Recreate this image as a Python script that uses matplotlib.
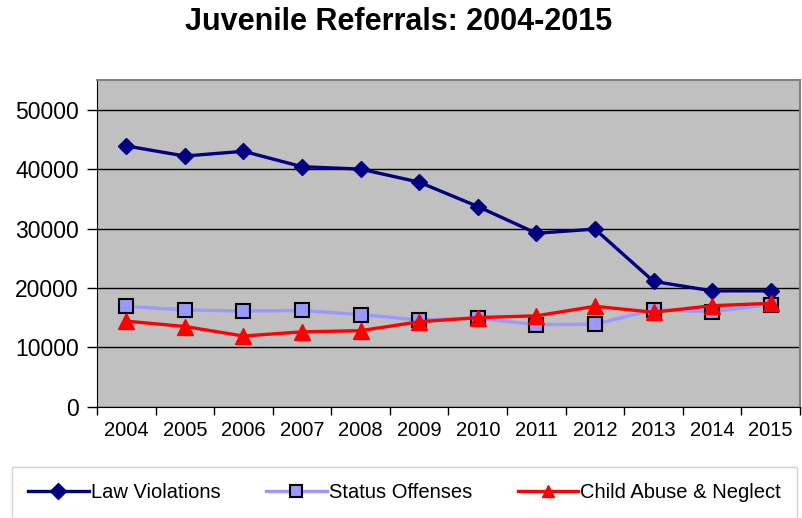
import matplotlib.pyplot as plt
import numpy as np

plt.rcParams['font.family'] = ['Liberation Sans', 'DejaVu Sans']

years = ['2004', '2005', '2006', '2007', '2008', '2009',
         '2010', '2011', '2012', '2013', '2014', '2015']
law = [43900, 42200, 43000, 40400, 40000, 37800,
       33700, 29200, 29900, 21100, 19500, 19500]
status = [16900, 16300, 16100, 16200, 15500, 14600,
          14900, 13800, 13900, 16300, 16000, 17200]
child = [14400, 13500, 11900, 12600, 12800, 14300,
         15000, 15300, 16900, 15900, 17000, 17400]

fig = plt.figure(figsize=(8.03, 5.18), dpi=100)
ax = fig.add_axes([97/803, 1 - 406.7/518, 703/803, 326.7/518])
ax.set_facecolor('#C0C0C0')

x = np.arange(len(years))
ax.plot(x, law, color='#000080', lw=2.4, marker='D', ms=8.5,
        label='Law Violations', zorder=5)
ax.plot(x, status, color='#9999FF', lw=2.4, marker='s', ms=10,
        mfc='#9999FF', mec='black', mew=1.5, label='Status Offenses', zorder=4)
ax.plot(x, child, color='#FF0000', lw=2.4, marker='^', ms=11,
        label='Child Abuse & Neglect', zorder=6)

ax.set_xlim(-0.5, len(years) - 0.5)
ax.set_ylim(0, 55000)
ax.set_yticks(np.arange(0, 50001, 10000))
ax.tick_params(axis='y', labelsize=16.5, length=7, width=1, pad=6)
ax.set_xticks(x)
ax.set_xticklabels(years)
ax.set_xticks(np.arange(-0.5, len(years), 1), minor=True)
ax.tick_params(axis='x', which='major', length=0, labelsize=14.5, pad=10)
ax.tick_params(axis='x', which='minor', length=6, width=1)
ax.grid(axis='y', color='black', lw=1)
ax.set_axisbelow(True)
for s in ['top', 'right']:
    ax.spines[s].set_color('#808080')
    ax.spines[s].set_linewidth(1.5)
for s in ['left', 'bottom']:
    ax.spines[s].set_color('black')

fig.text(0.496, 1 - 22/518, 'Juvenile Referrals: 2004-2015', fontsize=22,
         fontweight='bold', ha='center', va='center')

leg = fig.legend(loc='upper left', bbox_to_anchor=(12/803, 1 - 467/518, 785/803, 0),
                 mode='expand', ncol=3, frameon=True, fancybox=False,
                 edgecolor='#C8C8C8', handlelength=3.0, borderaxespad=0,
                 handletextpad=0.1, borderpad=0.8, columnspacing=1.5,
                 prop={'family': ['Liberation Sans'], 'size': 14.5})
for h in leg.legend_handles:
    h.set_markersize(8)

fig.savefig('out.png', dpi=100)
